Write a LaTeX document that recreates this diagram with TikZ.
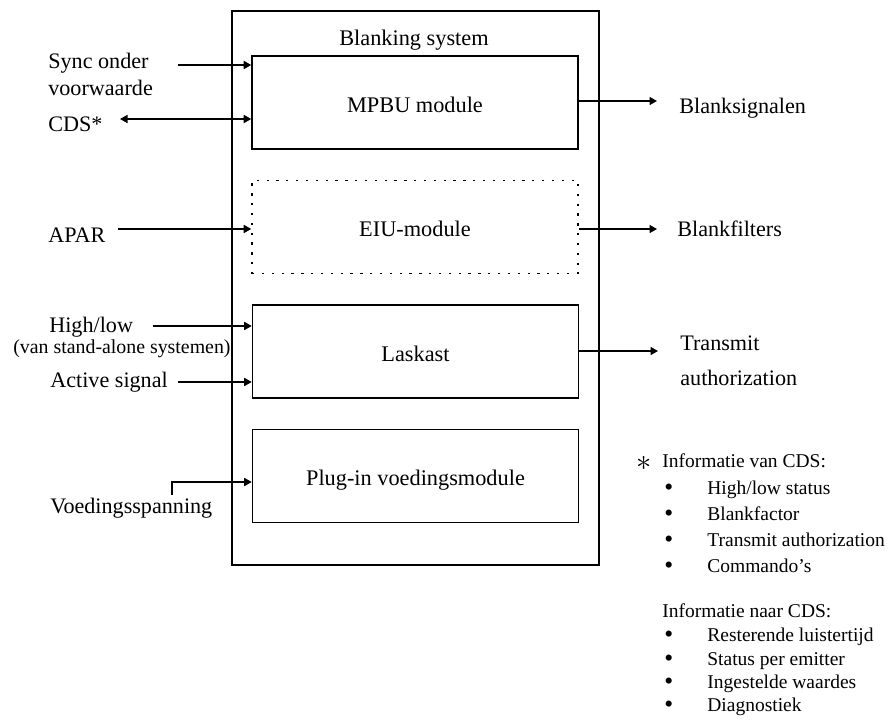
\documentclass[tikz,border=0pt]{standalone}
\usepackage{fontspec}
\setmainfont{Liberation Serif}
\usepackage{tikz}
\usetikzlibrary{arrows.meta}

\begin{document}
\begin{tikzpicture}[x=0.02cm,y=-0.02cm,>={Triangle[length=1.5mm,width=1.6mm]},
    box/.style={draw,line width=0.9pt,inner sep=0,minimum width=6.52cm,minimum height=1.86cm,
        text height=11pt,text depth=0pt,font=\fontsize{12.7}{14}\selectfont},
    dotbox/.style={box,dash pattern=on 1.3pt off 4.3pt},
    lbl/.style={anchor=base west,inner sep=0,font=\fontsize{12.6}{14}\selectfont},
    note/.style={anchor=base west,inner sep=0,font=\fontsize{11.1}{13}\selectfont},
    dot/.style={note,font=\fontsize{14.5}{14}\selectfont},
    sig/.style={line width=0.9pt,->}]
    \useasboundingbox (0,0) rectangle (891,724);
    % blanking system
    \node[draw,line width=0.9pt,inner sep=0,minimum width=7.34cm,minimum height=11.08cm] (sys) at (415.5,288) {};
    \node[anchor=base,inner sep=0,font=\fontsize{12.7}{14}\selectfont] (systitle) at (414,45) {Blanking system};
    \node[box] (mpbu) at (415,102.5) {MPBU module};
    \node[dotbox] (eiu) at (415,227) {EIU-module};
    \node[box] (laskast) at (415.5,351.5) {Laskast};
    \node[box] (plugin) at (415.5,476) {Plug-in voedingsmodule};
    % inputs
    \node[lbl] (sync) at (48,68) {Sync onder};
    \node[lbl] (voorw) at (48,95) {voorwaarde};
    \node[lbl] (cds) at (48,131) {CDS*};
    \node[lbl] (apar) at (48,242) {APAR};
    \node[lbl] (highlow) at (49,332) {High/low};
    \node[lbl,font=\fontsize{11.3}{12}\selectfont] (standalone) at (13,353) {(van stand-alone systemen)};
    \node[lbl] (active) at (50,387) {Active signal};
    \node[lbl] (voeding) at (50,513) {Voedingsspanning};
    \coordinate (syncin) at (178,65);
    \coordinate (cdsin) at (120,119);
    \coordinate (aparin) at (118,229);
    \coordinate (highin) at (153,326);
    \coordinate (activein) at (178,382);
    \coordinate (voedin) at (172,495);
    \draw[sig] (syncin) -- (mpbu.west |- syncin);
    \draw[sig,<->] (cdsin) -- (mpbu.west |- cdsin);
    \draw[sig] (aparin) -- (eiu.west |- aparin);
    \draw[sig] (highin) -- (laskast.west |- highin);
    \draw[sig] (activein) -- (laskast.west |- activein);
    \draw[sig] (voedin) |- (plugin.west |- 0,482);
    % outputs
    \node[lbl] (blanksig) at (679,113) {Blanksignalen};
    \node[lbl] (blankfil) at (677,236) {Blankfilters};
    \node[lbl] (transmit) at (680,350) {Transmit};
    \node[lbl] (auth) at (680,385) {authorization};
    \coordinate (blanksigout) at (657,101);
    \coordinate (blankfilout) at (657,229);
    \coordinate (transout) at (658,351);
    \draw[sig] (mpbu.east |- blanksigout) -- (blanksigout);
    \draw[sig] (eiu.east |- blankfilout) -- (blankfilout);
    \draw[sig] (laskast.east |- transout) -- (transout);
    % notes on CDS
    \node[note,font=\fontsize{16}{16}\selectfont] (star) at (636,470) {$\ast$};
    \node[note] (van) at (662,467) {Informatie van CDS:};
    \node[dot] (b1) at (664,495) {\textbullet};
    \node[note] (van1) at (707,494) {High/low status};
    \node[dot] (b2) at (664,521) {\textbullet};
    \node[note] (van2) at (707,520) {Blankfactor};
    \node[dot] (b3) at (664,547) {\textbullet};
    \node[note] (van3) at (707,546) {Transmit authorization};
    \node[dot] (b4) at (664,573) {\textbullet};
    \node[note] (van4) at (707,572) {Commando's};
    \node[note] (naar) at (662,617) {Informatie naar CDS:};
    \node[dot] (b5) at (664,642) {\textbullet};
    \node[note] (naar1) at (707,641) {Resterende luistertijd};
    \node[dot] (b6) at (664,666) {\textbullet};
    \node[note] (naar2) at (707,665) {Status per emitter};
    \node[dot] (b7) at (664,689) {\textbullet};
    \node[note] (naar3) at (707,688) {Ingestelde waardes};
    \node[dot] (b8) at (664,712) {\textbullet};
    \node[note] (naar4) at (707,711) {Diagnostiek};
\end{tikzpicture}
\end{document}
